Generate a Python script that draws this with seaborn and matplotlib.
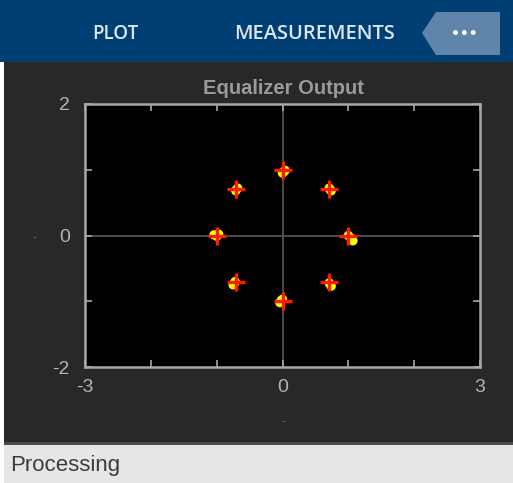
import matplotlib
matplotlib.use("Agg")
import matplotlib.pyplot as plt
from matplotlib.patches import Rectangle, Polygon
import numpy as np
import pandas as pd
import seaborn as sns

# --- data: 8-PSK reference points and equalized symbols ---
ref_i = [1.0, 0.707, 0.0, -0.707, -1.0, -0.707, 0.0, 0.707]
ref_q = [0.0, 0.707, 1.0, 0.707, 0.0, -0.707, -1.0, -0.707]

rx_i = [1.00, 1.04, 1.07, 0.72, 0.74, 0.71, 0.02, 0.04, 0.00,
        -0.70, -0.71, -0.68, -1.04, -1.00, -0.97, -0.73, -0.72, -0.75,
        -0.02, -0.04, 0.00, 0.72, 0.74, 0.71]
rx_q = [0.00, -0.04, -0.08, 0.70, 0.68, 0.72, 0.97, 0.99, 0.95,
        0.70, 0.68, 0.72, 0.01, -0.01, 0.02, -0.73, -0.70, -0.75,
        -0.99, -1.02, -0.97, -0.74, -0.77, -0.72]

x_ticks = [-3, -2, -1, 0, 1, 2, 3]
y_ticks = [-2, -1, 0, 1, 2]
x_labels = ["-3", "", "", "0", "", "", "3"]
y_labels = ["-2", "", "0", "", "2"]

df_ref = pd.DataFrame({"I": ref_i, "Q": ref_q})
df_rx = pd.DataFrame({"I": rx_i, "Q": rx_q})

W, H = 513, 483
fig = plt.figure(figsize=(W / 100, H / 100), dpi=100)
fig.patch.set_facecolor("white")

# background / app chrome, drawn in pixel coords
bg = fig.add_axes([0, 0, 1, 1])
bg.set_xlim(0, W)
bg.set_ylim(H, 0)
bg.axis("off")
bg.add_patch(Rectangle((0, 0), W, 62, color="#003f74", lw=0))
bg.add_patch(Rectangle((4, 62), W - 4, 381, color="#282828", lw=0))
bg.add_patch(Rectangle((4, 442), W - 4, 3, color="#4a4a4a", lw=0))
bg.add_patch(Rectangle((4, 445), W - 4, 38, color="#e6e6e6", lw=0))
bg.add_patch(Polygon([(422, 33), (436, 12), (500, 12), (500, 55), (436, 55)],
                     closed=True, color="#5f86aa", lw=0))
ui_font = ["Open Sans", "DejaVu Sans"]
bg.text(115, 34, "PLOT", color="#dde5ee", fontsize=13.5, ha="center", va="center",
        family=ui_font, fontweight="semibold")
bg.text(314, 34, "MEASUREMENTS", color="#dde5ee", fontsize=14.5, ha="center",
        va="center", family=ui_font, fontweight="semibold")
bg.text(464, 34, "•••", color="white", fontsize=10, ha="center", va="center",
        fontweight="bold")
bg.text(10, 466, "Processing", color="#3c3c3c", fontsize=16, ha="left", va="center",
        family="Liberation Sans")
bg.text(283, 88, "Equalizer Output", color="#9a9a9a", fontsize=14.5, ha="center",
        va="center", fontweight="bold", family="Liberation Sans")
bg.text(35, 235, ".", color="#9a9a9a", fontsize=9, ha="center", va="center")
bg.text(283, 421, "-", color="#777777", fontsize=7, ha="center", va="center")

# constellation axes
ax = fig.add_axes([85 / W, (H - 367) / H, 395 / W, 263 / H])
ax.set_facecolor("black")
sns.scatterplot(data=df_rx, x="I", y="Q", ax=ax, color="#ffff00", s=45,
                edgecolor="none", zorder=3)
sns.scatterplot(data=df_ref, x="I", y="Q", ax=ax, color="#ff1a00", marker="+",
                s=150, linewidth=2.4, zorder=4)
ax.axhline(0, color="#5a5a5a", lw=1.2, zorder=1)
ax.axvline(0, color="#5a5a5a", lw=1.2, zorder=1)

ax.set_xlim(-3, 3)
ax.set_ylim(-2, 2)
ax.set_xticks(x_ticks)
ax.set_xticklabels(x_labels)
ax.set_yticks(y_ticks)
ax.set_yticklabels(y_labels)
ax.set_xlabel("")
ax.set_ylabel("")
ax.tick_params(direction="in", length=5, width=1.2, color="#a8a8a8",
               labelcolor="#b4b4b4", labelsize=14, top=True, right=True)
ax.tick_params(axis="x", pad=9)
ax.tick_params(axis="y", pad=11)
for lab in ax.get_xticklabels() + ax.get_yticklabels():
    lab.set_family("Liberation Sans")
for sp in ax.spines.values():
    sp.set_color("#a8a8a8")
    sp.set_linewidth(1.8)

fig.savefig("out.png", dpi=100, facecolor=fig.get_facecolor())
